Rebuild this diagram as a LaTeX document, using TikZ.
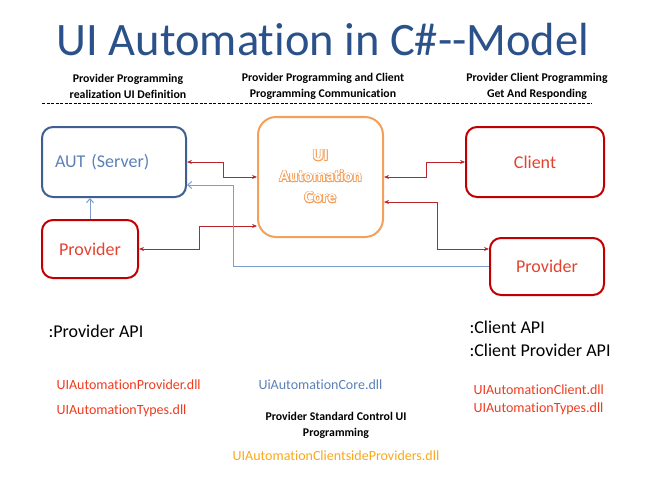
\documentclass[tikz,border=0pt]{standalone}
\usepackage{fontspec}
\setmainfont{Carlito}[Ligatures={NoCommon}]
\usepackage{contour}
\usetikzlibrary{arrows.meta}
\contourlength{0.7pt}
\definecolor{titleblue}{HTML}{2A5189}
\definecolor{autblue}{HTML}{3E5F8F}
\definecolor{autText}{HTML}{5B80B8}
\definecolor{boxred}{HTML}{C00000}
\definecolor{redText}{HTML}{E2432F}
\definecolor{dllred}{HTML}{F03A1E}
\definecolor{coreorange}{HTML}{F5A05A}
\definecolor{arrowred}{HTML}{B8262C}
\definecolor{lineblue}{HTML}{7C9DC9}
\definecolor{dllorange}{HTML}{F8A81C}

\tikzset{
  box/.style={draw, line width=2pt, rounded corners=11pt, inner sep=0pt},
  redbox/.style={box, draw=boxred, text=redText, font=\fontsize{18}{20}\selectfont},
  redarrow/.style={arrowred, line width=0.8pt, {Stealth[length=5pt,width=4pt]}-{Stealth[length=5pt,width=4pt]}},
  bluearrow/.style={lineblue, line width=1pt, -{Straight Barb[length=4pt,width=7pt]}},
  heading/.style={font=\bfseries\fontsize{11.8}{16}\selectfont, align=center},
  apitext/.style={anchor=west, font=\fontsize{18}{23}\selectfont, align=left},
  dlltext/.style={anchor=west, font=\fontsize{14}{18}\selectfont, align=left}
}

\begin{document}
\begin{tikzpicture}[x=1pt, y=-1pt]
  \useasboundingbox (0,0) rectangle (647,476);

  % title and headings
  \node[text=titleblue, font=\fontsize{46.5}{50}\selectfont] (title) at (323,40) {UI Automation in C\#{-}{-}Model};
  \node[heading] (headL) at (128,86) {Provider Programming\\realization UI Definition};
  \node[heading] (headM) at (323,86) {Provider Programming and Client\\Programming Communication};
  \node[heading] (headR) at (537,86) {Provider Client Programming\\Get And Responding};
  \draw[dashed, dash pattern=on 3pt off 1.5pt, line width=0.8pt] (42,103) -- (592,103);

  % boxes
  \node[box, draw=autblue, text=autText, minimum width=144pt, minimum height=70pt,
        inner xsep=13pt, text width=118pt, align=left, font=\fontsize{18}{20}\selectfont] (aut) at (114,162) {AUT (Server)};
  \node[box, draw=coreorange, rounded corners=18pt, minimum width=125pt, minimum height=120pt,
        align=center, font=\bfseries\fontsize{16.5}{21}\selectfont] (core) at (320.5,177)
        {\contour{coreorange}{\color{white}UI}\\\contour{coreorange}{\color{white}Automation}\\\contour{coreorange}{\color{white}Core}};
  \node[redbox, minimum width=138pt, minimum height=70pt] (client) at (535,162) {Client};
  \node[redbox, minimum width=96pt, minimum height=58pt] (provL) at (90,249) {Provider};
  \node[redbox, minimum width=114pt, minimum height=57pt] (provR) at (547,266.5) {Provider};

  % connectors
  \draw[redarrow] (aut.east) -- ++(36,0) |- (core.west);
  \draw[redarrow] (provL.east) -- ++(60,0) |- ([yshift=-49pt]core.west);
  \draw[redarrow] (core.east) -- ++(42,0) |- (client.west);
  \draw[redarrow] ([yshift=-25pt]core.east) -- ++(53,0) |- ([yshift=17.5pt]provR.west);
  \draw[bluearrow] (provL.north) -- (provL.north |- aut.south);
  \draw[bluearrow] (provR.west) -| ([xshift=46pt,yshift=-23pt]aut.east) -- ([yshift=-23pt]aut.east);

  % api and dll texts
  \node[apitext] (provAPI) at (45,331) {:Provider API};
  \node[apitext] (clientAPI) at (466,339) {:Client API\\:Client Provider API};
  \node[dlltext, text=dllred] (provDll) at (53,385) {UIAutomationProvider.dll};
  \node[dlltext, text=dllred] (typesDll) at (53,411) {UIAutomationTypes.dll};
  \node[dlltext, text=autText] (coreDll) at (255,385) {UiAutomationCore.dll};
  \node[dlltext, text=dllred] (clientDll) at (470,400) {UIAutomationClient.dll\\UIAutomationTypes.dll};
  \node[heading] (stdCtrl) at (336,425) {Provider Standard Control UI\\Programming};
  \node[dlltext, anchor=center, text=dllorange] (sideDll) at (336,456) {UIAutomationClientsideProviders.dll};
\end{tikzpicture}
\end{document}
